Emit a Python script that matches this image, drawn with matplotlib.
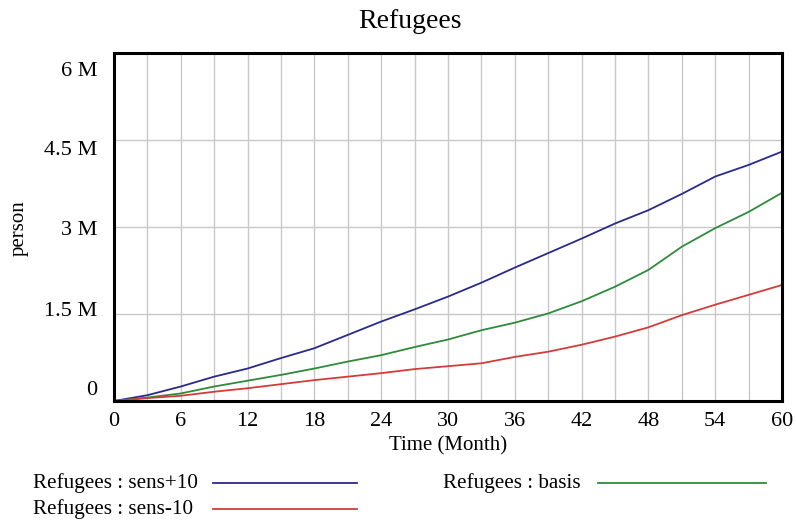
import matplotlib
matplotlib.use("Agg")
import matplotlib.pyplot as plt
from matplotlib.lines import Line2D
import matplotlib.transforms as mtransforms

plt.rcParams['font.family'] = ['Liberation Serif', 'DejaVu Serif']

# Simulation output sampled every 3 months (persons)
months = [0, 3, 6, 9, 12, 15, 18, 21, 24, 27, 30, 33, 36, 39, 42, 45, 48, 51, 54, 57, 60]
sens_plus10 = [0, 0.10e6, 0.25e6, 0.42e6, 0.56e6, 0.74e6, 0.91e6, 1.14e6, 1.37e6, 1.58e6,
               1.80e6, 2.04e6, 2.30e6, 2.55e6, 2.80e6, 3.06e6, 3.29e6, 3.57e6, 3.87e6,
               4.07e6, 4.30e6]
basis = [0, 0.06e6, 0.13e6, 0.25e6, 0.35e6, 0.45e6, 0.56e6, 0.68e6, 0.79e6, 0.93e6,
         1.06e6, 1.22e6, 1.35e6, 1.51e6, 1.72e6, 1.97e6, 2.26e6, 2.66e6, 2.98e6,
         3.26e6, 3.59e6]
sens_minus10 = [0, 0.05e6, 0.09e6, 0.16e6, 0.22e6, 0.29e6, 0.36e6, 0.42e6, 0.48e6, 0.55e6,
                0.60e6, 0.65e6, 0.76e6, 0.85e6, 0.97e6, 1.11e6, 1.27e6, 1.48e6, 1.66e6,
                1.83e6, 2.00e6]

x_ticks = [0, 6, 12, 18, 24, 30, 36, 42, 48, 54, 60]
y_ticks = [0, 1.5e6, 3e6, 4.5e6, 6e6]
y_tick_labels = ["0", "1.5 M", "3 M", "4.5 M", "6 M"]

c_blue = '#2a2a8a'
c_green = '#2f8a3c'
c_red = '#d43b3b'

fig = plt.figure(figsize=(7.96, 5.24), dpi=100)
ax = fig.add_axes([114 / 796, 1 - 401 / 524, 668 / 796, 348 / 524])

ax.plot(months, sens_plus10, color=c_blue, lw=1.3)
ax.plot(months, basis, color=c_green, lw=1.3)
ax.plot(months, sens_minus10, color=c_red, lw=1.3)

ax.set_xlim(0, 60)
ax.set_ylim(0, 6e6)
ax.set_xticks(x_ticks)
ax.set_xticks(range(0, 61, 3), minor=True)
ax.set_yticks(y_ticks)
ax.set_yticklabels(y_tick_labels)
ax.tick_params(axis='both', which='both', length=0, labelsize=16)
ax.tick_params(axis='x', pad=8)
ax.tick_params(axis='y', pad=12)
ax.grid(True, which='both', color='#c8c8c8', lw=1)
ax.set_axisbelow(True)
for s in ax.spines.values():
    s.set_linewidth(2.2)
    s.set_color('black')

# Vensim spreads the value labels slightly inside the axis range
shifts = [13, 5, -1, -8, -16]
for lbl, dy in zip(ax.get_yticklabels(), shifts):
    lbl.set_transform(lbl.get_transform() +
                      mtransforms.ScaledTranslation(0, dy / 100, fig.dpi_scale_trans))

ax.set_xlabel("Time (Month)", fontsize=15, labelpad=4)
ax.set_ylabel("person", fontsize=15)
ax.yaxis.set_label_coords(-0.127, 0.497)
fig.text(410 / 796, 1 - 22 / 524, "Refugees", fontsize=20, ha='center', va='center')

# Legend rows: label text followed by a line sample
legend_rows = [
    ("Refugees : sens+10", c_blue, 33, 213, 357, 483),
    ("Refugees : basis", c_green, 443, 598, 766, 483),
    ("Refugees : sens-10", c_red, 33, 213, 357, 509),
]
for label, col, tx, x0, x1, y in legend_rows:
    fy = 1 - y / 524
    fig.text(tx / 796, fy, label, fontsize=15.2, ha='left', va='center')
    fig.add_artist(Line2D([x0 / 796, x1 / 796], [fy, fy], color=col, lw=1.3,
                          transform=fig.transFigure))

fig.savefig("out.png", dpi=100)
